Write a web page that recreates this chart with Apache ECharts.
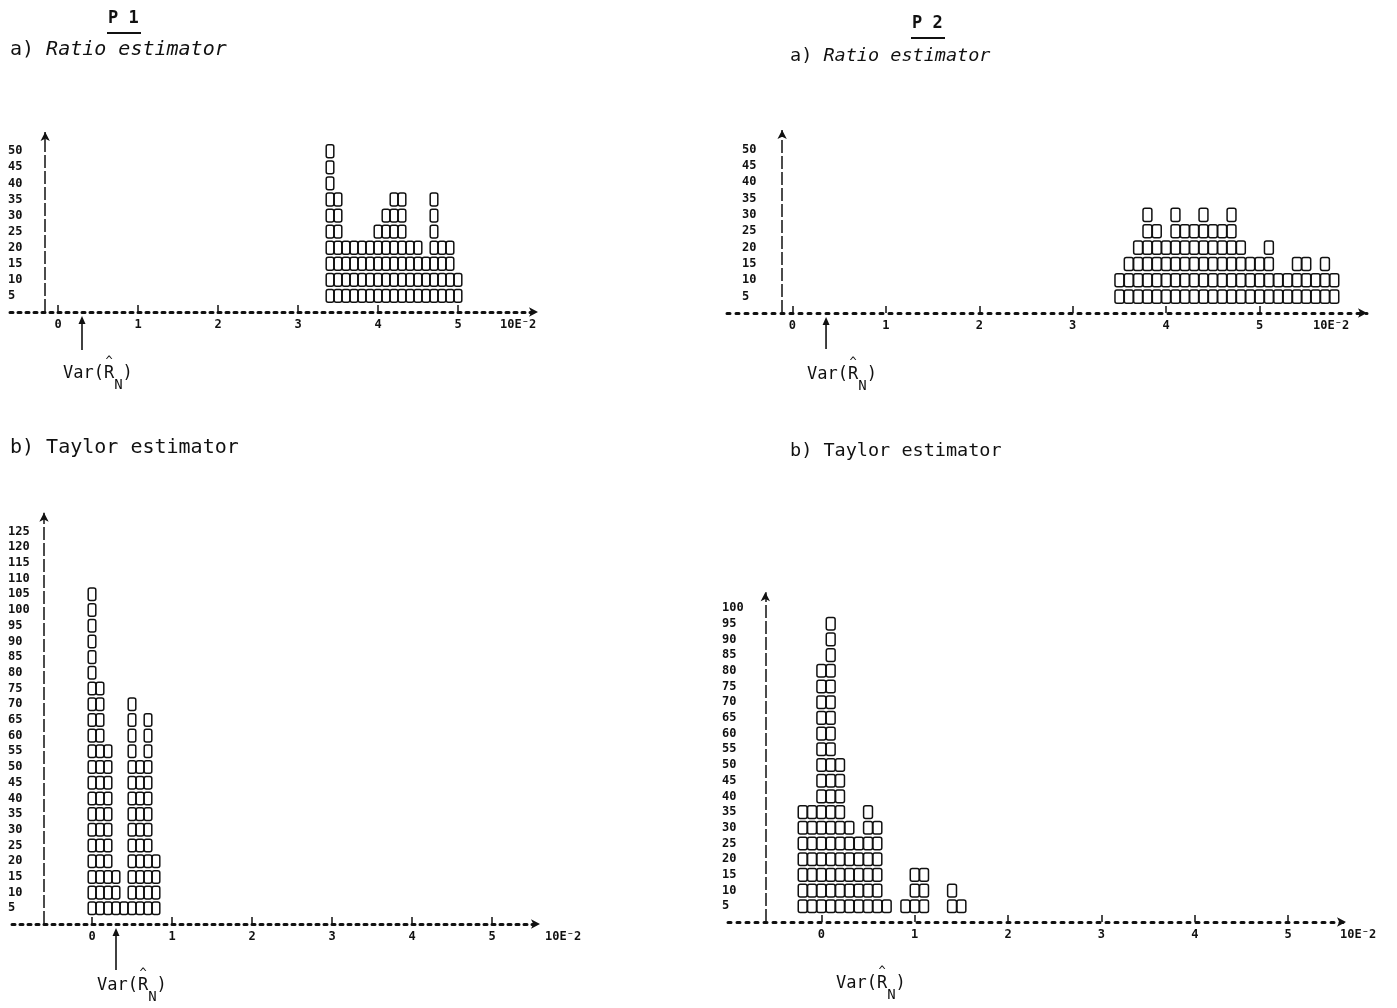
<!DOCTYPE html>
<html>
<head>
<meta charset="utf-8">
<title>Variance estimators P1 / P2</title>
<script src="https://cdn.jsdelivr.net/npm/echarts@6/dist/echarts.min.js"></script>
<style>
  html, body { margin: 0; padding: 0; background: #fff; }
  #chart { width: 1397px; height: 1008px; }
</style>
</head>
<body>
<div id="chart"></div>
<script>
// bin centres in units of 10E-2, counts (one box = 5)
var xTickValues = [0, 1, 2, 3, 4, 5]
var yTicksRatio = [5, 10, 15, 20, 25, 30, 35, 40, 45, 50]
var yTicksP1Taylor = [5, 10, 15, 20, 25, 30, 35, 40, 45, 50, 55, 60, 65, 70, 75, 80, 85, 90, 95, 100, 105, 110, 115, 120, 125]
var yTicksP2Taylor = [5, 10, 15, 20, 25, 30, 35, 40, 45, 50, 55, 60, 65, 70, 75, 80, 85, 90, 95, 100]

var p1RatioBins = [3.4, 3.5, 3.6, 3.7, 3.8, 3.9, 4.0, 4.1, 4.2, 4.3, 4.4, 4.5, 4.6, 4.7, 4.8, 4.9, 5.0]
var p1RatioCounts = [50, 35, 20, 20, 20, 20, 25, 30, 35, 35, 20, 20, 15, 35, 20, 20, 10]

var p1TaylorBins = [0.0, 0.1, 0.2, 0.3, 0.4, 0.5, 0.6, 0.7, 0.8]
var p1TaylorCounts = [105, 75, 55, 15, 5, 70, 50, 65, 20]

var p2RatioBins = [3.5, 3.6, 3.7, 3.8, 3.9, 4.0, 4.1, 4.2, 4.3, 4.4, 4.5, 4.6, 4.7, 4.8, 4.9, 5.0, 5.1, 5.2, 5.3, 5.4, 5.5, 5.6, 5.7, 5.8]
var p2RatioCounts = [10, 15, 20, 30, 25, 20, 30, 25, 25, 30, 25, 25, 30, 20, 15, 15, 20, 10, 10, 15, 15, 10, 15, 10]

var p2TaylorBins = [-0.2, -0.1, 0.0, 0.1, 0.2, 0.3, 0.4, 0.5, 0.6, 0.7, 0.9, 1.0, 1.1, 1.4, 1.5]
var p2TaylorCounts = [35, 35, 80, 95, 50, 30, 25, 35, 30, 5, 5, 15, 15, 10, 5]

// true Var(R_N) marked under each axis
var p1VarR = 0.3
var p2VarR = 0.36

var ink = '#111'
var mono = "'DejaVu Sans Mono', monospace"

var panels = [
  { bins: p1RatioBins, counts: p1RatioCounts, yTicks: yTicksRatio, varR: p1VarR, arrow: true,
    left: 10, top: 132, width: 528, height: 180, xMin: -0.6, xMax: 6.0, yMax: 56,
    yAxisAt: -0.16, labelMargin: -2, nameGap: -38, dots: [3, 5], arrowLen: 34 },
  { bins: p1TaylorBins, counts: p1TaylorCounts, yTicks: yTicksP1Taylor, varR: p1VarR, arrow: true,
    left: 12, top: 512.7, width: 528, height: 411.3, xMin: -1.0, xMax: 5.6, yMax: 131,
    yAxisAt: -0.6, labelMargin: -4, nameGap: 5, dots: [3, 5], arrowLen: 42 },
  { bins: p2RatioBins, counts: p2RatioCounts, yTicks: yTicksRatio, varR: p2VarR, arrow: true,
    left: 727, top: 129.9, width: 640, height: 183.1, xMin: -0.7, xMax: 6.15, yMax: 56,
    yAxisAt: -0.11, labelMargin: 15, nameGap: -54, dots: [3, 6], arrowLen: 32 },
  { bins: p2TaylorBins, counts: p2TaylorCounts, yTicks: yTicksP2Taylor, varR: p2VarR, arrow: false,
    left: 728, top: 592.3, width: 618, height: 329.7, xMin: -1.0, xMax: 5.62, yMax: 105,
    yAxisAt: -0.6, labelMargin: -6, nameGap: -6, dots: [3, 6], arrowLen: 0 }
]

// one rounded box per 5 counts, stacked like the line-printer output
function boxRenderer (params, api) {
  var x = api.value(0)
  var rows = Math.round(api.value(1) / 5)
  var size = api.size([0.095, 4])
  var kids = []
  for (var k = 1; k <= rows; k++) {
    var pt = api.coord([x, 5 * k])
    kids.push({
      type: 'rect',
      shape: { x: pt[0] - size[0] / 2, y: pt[1] - size[1] / 2, width: size[0], height: size[1], r: 2 },
      style: { fill: 'none', stroke: ink, lineWidth: 1.5 }
    })
  }
  return { type: 'group', children: kids }
}

// arrow under the axis at Var(R_N) plus its label
function varMarker (p) {
  return function (params, api) {
    var pt = api.coord([api.value(0), 0])
    var x = pt[0]
    var y = pt[1]
    var kids = []
    if (p.arrow) {
      kids.push({ type: 'line', shape: { x1: x, y1: y + 9, x2: x, y2: y + 4 + p.arrowLen },
        style: { stroke: ink, lineWidth: 1.6 } })
      kids.push({ type: 'polygon', shape: { points: [[x, y + 4], [x - 3.5, y + 12], [x + 3.5, y + 12]] },
        style: { fill: ink } })
    }
    kids.push({
      type: 'text',
      x: x - 19,
      y: y + 44,
      style: {
        text: 'Var(R{sub|N})',
        fill: ink,
        fontFamily: mono,
        fontSize: 17,
        align: 'left',
        verticalAlign: 'top',
        rich: { sub: { fontFamily: mono, fontSize: 14, fill: ink, padding: [22, 0, 0, 0] } }
      }
    })
    // the hat over R
    kids.push({
      type: 'text',
      x: x - 19 + 4.5 * 10.24,
      y: y + 44,
      style: { text: '^', fill: ink, fontFamily: mono, fontSize: 12, align: 'center', verticalAlign: 'top' }
    })
    return { type: 'group', children: kids }
  }
}

var labelFont = { fontFamily: mono, fontWeight: 'bold', fontSize: 12, color: ink }

var series = []
panels.forEach(function (p, i) {
  series.push({
    type: 'custom',
    xAxisIndex: i,
    yAxisIndex: i,
    renderItem: boxRenderer,
    data: p.bins.map(function (b, j) { return [b, p.counts[j]] }),
    markLine: {
      silent: true,
      animation: false,
      symbol: ['none', 'arrow'],
      symbolSize: [7, 9],
      label: { show: false },
      lineStyle: { color: ink, width: 1.5, type: [13, 3] },
      // vertical axis made of '|' characters
      data: [[{ coord: [p.yAxisAt, 0] }, { coord: [p.yAxisAt, p.yMax] }]]
    }
  })
  series.push({
    type: 'custom',
    xAxisIndex: i,
    yAxisIndex: i,
    clip: false,
    renderItem: varMarker(p),
    data: [[p.varR, 0]]
  })
})

var option = {
  backgroundColor: '#fff',
  animation: false,
  title: [
    { text: 'P 1', left: 108, top: 10, padding: 0,
      textStyle: { fontFamily: mono, fontWeight: 'bold', fontSize: 17, color: ink } },
    { text: 'a) {it|Ratio estimator}', left: 10, top: 40, padding: 0,
      textStyle: { fontFamily: mono, fontWeight: 'normal', fontSize: 20, color: ink,
        rich: { it: { fontFamily: mono, fontStyle: 'italic', fontSize: 20, color: ink } } } },
    { text: 'b) Taylor estimator', left: 10, top: 438, padding: 0,
      textStyle: { fontFamily: mono, fontWeight: 'normal', fontSize: 20, color: ink } },
    { text: 'P 2', left: 912, top: 15, padding: 0,
      textStyle: { fontFamily: mono, fontWeight: 'bold', fontSize: 17, color: ink } },
    { text: 'a) {it|Ratio estimator}', left: 790, top: 47, padding: 0,
      textStyle: { fontFamily: mono, fontWeight: 'normal', fontSize: 18.5, color: ink,
        rich: { it: { fontFamily: mono, fontStyle: 'italic', fontSize: 18.5, color: ink } } } },
    { text: 'b) Taylor estimator', left: 790, top: 442, padding: 0,
      textStyle: { fontFamily: mono, fontWeight: 'normal', fontSize: 18.5, color: ink } }
  ],
  graphic: [
    { type: 'line', shape: { x1: 107, y1: 33, x2: 141, y2: 33 }, style: { stroke: ink, lineWidth: 2 } },
    { type: 'line', shape: { x1: 911, y1: 38, x2: 945, y2: 38 }, style: { stroke: ink, lineWidth: 2 } }
  ],
  grid: panels.map(function (p) {
    return { left: p.left, top: p.top, width: p.width, height: p.height }
  }),
  xAxis: panels.map(function (p, i) {
    return {
      type: 'value',
      gridIndex: i,
      min: p.xMin,
      max: p.xMax,
      name: '10E\u207B2',
      nameLocation: 'end',
      nameGap: p.nameGap,
      nameTextStyle: Object.assign({ verticalAlign: 'top', lineHeight: 26 }, labelFont),
      axisLine: {
        symbol: ['none', 'arrow'],
        symbolSize: [7, 9],
        lineStyle: { color: ink, width: 3, type: p.dots }
      },
      axisTick: { show: true, customValues: xTickValues, inside: true, length: 7, lineStyle: { color: ink, width: 1.5 } },
      axisLabel: Object.assign({ customValues: xTickValues, margin: 7 }, labelFont),
      splitLine: { show: false }
    }
  }),
  yAxis: panels.map(function (p, i) {
    return {
      type: 'value',
      gridIndex: i,
      min: 0,
      max: p.yMax,
      axisLine: { show: false, onZero: false },
      axisTick: { show: false },
      splitLine: { show: false },
      axisLabel: Object.assign({ inside: true, margin: p.labelMargin, customValues: p.yTicks }, labelFont)
    }
  }),
  series: series
}

var chart = echarts.init(document.getElementById('chart'))
chart.setOption(option)
window.addEventListener('resize', function () {
  chart.resize()
})
</script>
</body>
</html>
